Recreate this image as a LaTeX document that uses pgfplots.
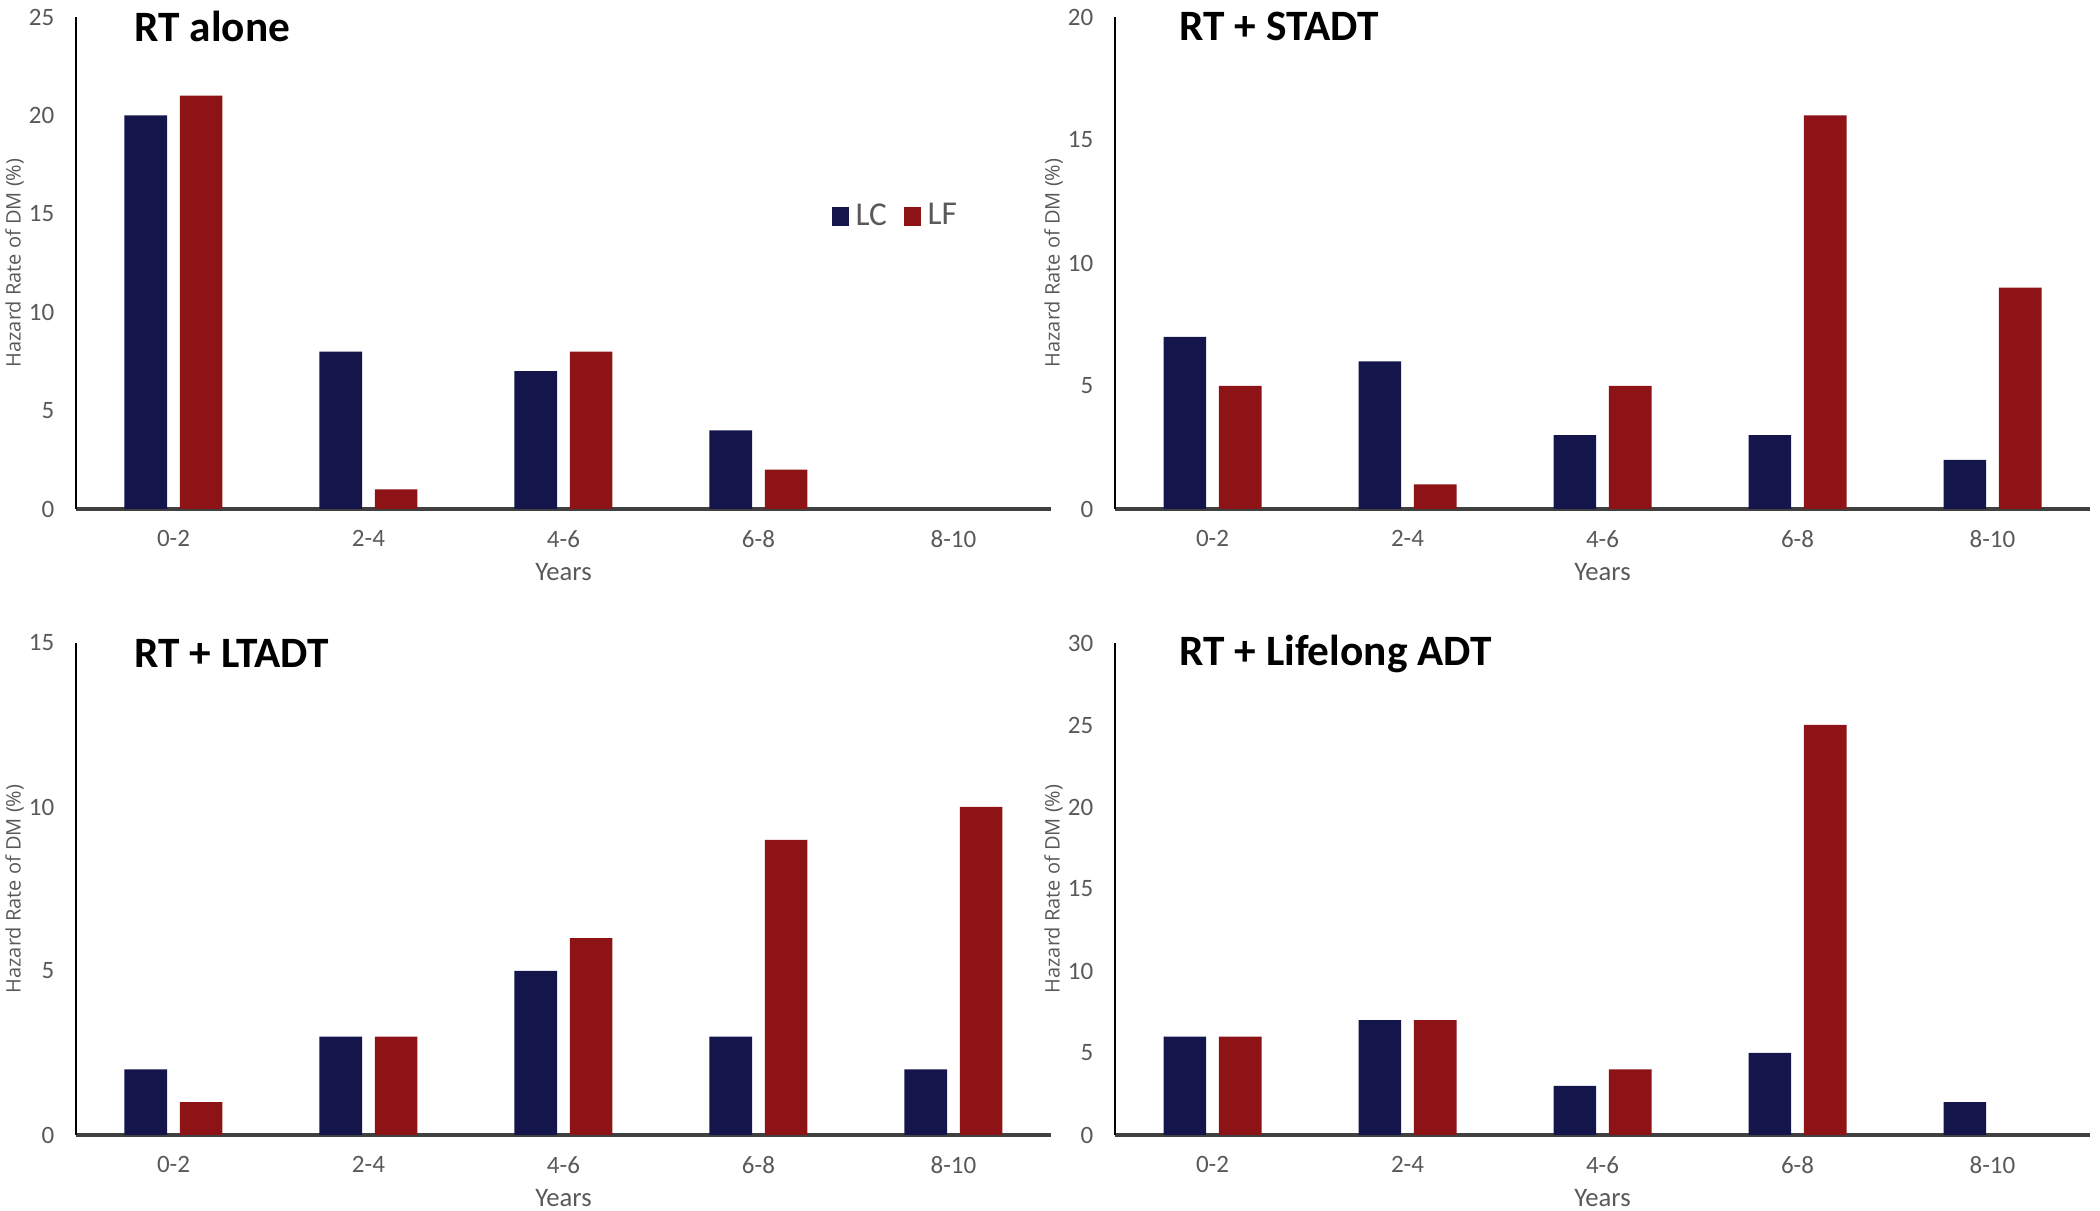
\documentclass[border=0pt]{standalone}
\usepackage{fontspec}
\setmainfont{Carlito}
\newfontfamily\labfont{Open Sans}
\usepackage{pgfplots}
\pgfplotsset{compat=1.18}
\definecolor{lc}{RGB}{20,21,74}
\definecolor{lf}{RGB}{142,19,23}
\definecolor{txt}{RGB}{89,89,89}
\tikzset{ttl/.style={anchor=west, font=\bfseries\fontsize{13}{15}\selectfont, text=black}}
\pgfplotsset{
 panel/.style={
  scale only axis, width=292.5pt, height=147.6pt,
  xmin=-0.5, xmax=4.5, ymin=0,
  axis x line=bottom, axis y line=left,
  axis line style={-},
  x axis line style={line width=1pt, color=black!75},
  y axis line style={line width=0.5pt, color=black},
  xtick={0,1,2,3,4}, xticklabels={0-2,2-4,4-6,6-8,8-10},
  ytick distance=5,
  /pgf/number format/assume math mode=true,
  major tick length=0pt,
  tick label style={font=\fontsize{7.5}{8.5}\selectfont, text=txt},
  xticklabel style={yshift=-3pt},
  yticklabel style={xshift=-3pt},
  xlabel={Years},
  ylabel={Hazard Rate of DM (\%)},
  every axis y label/.style={at={(axis description cs:-0.063,0.5)}, rotate=90, anchor=center, font=\labfont\fontsize{6}{7}\selectfont, text=txt},
  every axis x label/.style={at={(axis description cs:0.5,0)}, anchor=center, yshift=-19pt, font=\fontsize{8}{9}\selectfont, text=txt},
  ybar, bar width=12.8pt,
  clip=false,
 },
 lcbar/.style={fill=lc, draw=none, bar shift=-8.3pt},
 lfbar/.style={fill=lf, draw=none, bar shift=8.3pt},
 sqlegend/.style={legend image code/.code={\fill[##1] (0pt,-2.8pt) rectangle (5.2pt,2.8pt);}},
}
\begin{document}
\begin{tikzpicture}
\useasboundingbox (0,0) rectangle (630pt,363.3pt);
% Top left
\begin{axis}[panel, at={(22.8pt,210.6pt)}, anchor=south west, ymax=25,
  legend style={at={(0.764,0.594)}, anchor=west, draw=none, fill=none, legend columns=2,
    font=\fontsize{10}{12}\selectfont, text=txt,
    /tikz/every even column/.append style={column sep=3pt}},
  sqlegend]
\addplot[lcbar] coordinates {(0,20) (1,8) (2,7) (3,4)};
\addplot[lfbar] coordinates {(0,21) (1,1) (2,8) (3,2)};
\legend{LC,LF}
\node[ttl] at (rel axis cs:0.048,0.98) {RT alone};
\end{axis}
% Top right
\begin{axis}[panel, at={(334.5pt,210.6pt)}, anchor=south west, ymax=20]
\addplot[lcbar] coordinates {(0,7) (1,6) (2,3) (3,3) (4,2)};
\addplot[lfbar] coordinates {(0,5) (1,1) (2,5) (3,16) (4,9)};
\node[ttl] at (rel axis cs:0.054,0.98) {RT + STADT};
\end{axis}
% Bottom left
\begin{axis}[panel, at={(22.8pt,22.8pt)}, anchor=south west, ymax=15]
\addplot[lcbar] coordinates {(0,2) (1,3) (2,5) (3,3) (4,2)};
\addplot[lfbar] coordinates {(0,1) (1,3) (2,6) (3,9) (4,10)};
\node[ttl] at (rel axis cs:0.048,0.978) {RT + LTADT};
\end{axis}
% Bottom right
\begin{axis}[panel, at={(334.5pt,22.8pt)}, anchor=south west, ymax=30]
\addplot[lcbar] coordinates {(0,6) (1,7) (2,3) (3,5) (4,2)};
\addplot[lfbar] coordinates {(0,6) (1,7) (2,4) (3,25)};
\node[ttl] at (rel axis cs:0.054,0.978) {RT + Lifelong ADT};
\end{axis}
\end{tikzpicture}
\end{document}
